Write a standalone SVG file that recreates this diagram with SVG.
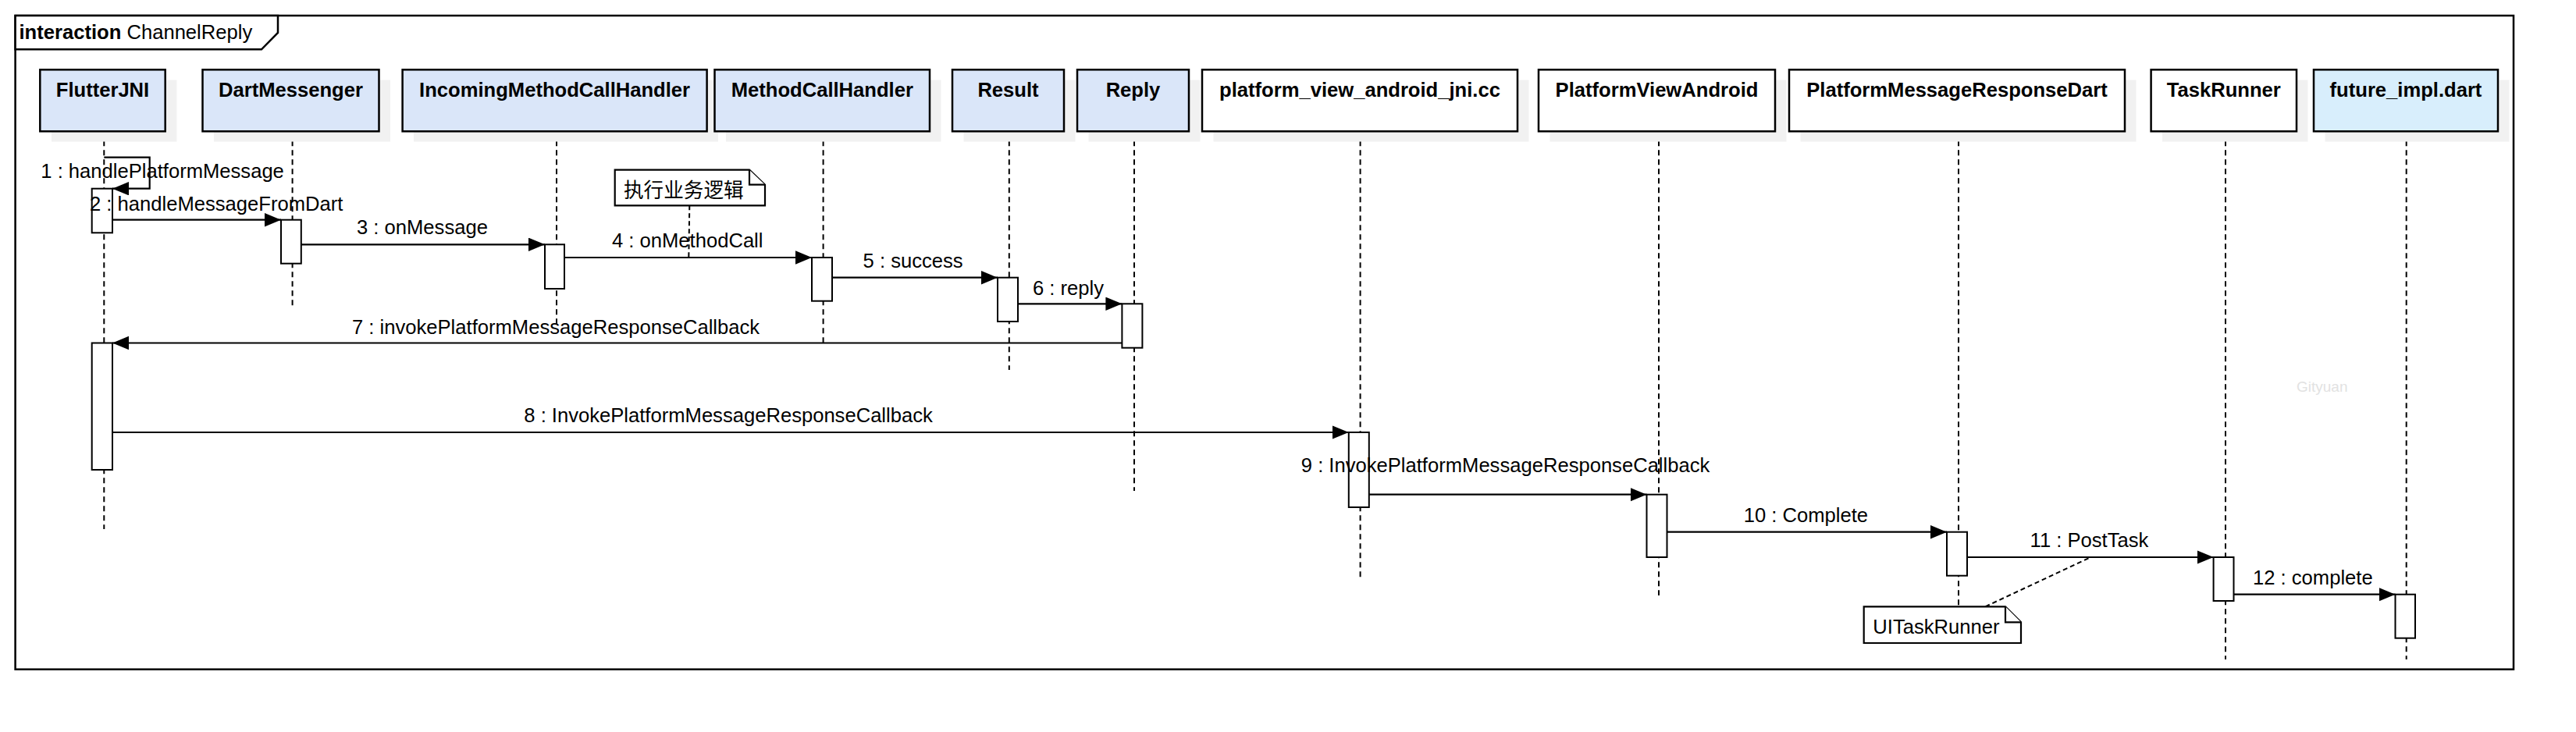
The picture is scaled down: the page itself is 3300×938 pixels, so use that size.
<svg xmlns="http://www.w3.org/2000/svg" width="3300" height="938" viewBox="0 0 3300 938">
<defs>
<style>
.bg{fill:#ffffff}
.frame{fill:none;stroke:#000;stroke-width:2.5}
.flabel{fill:#fff;stroke:#000;stroke-width:2.5}
.t{font-family:"Liberation Sans",Arial,"Noto Sans CJK SC",sans-serif;font-size:25.6px;fill:#000}
.tb{font-family:"Liberation Sans",Arial,sans-serif;font-size:25.6px;font-weight:bold;fill:#000}
.cjk{font-family:"Noto Sans CJK SC","Liberation Sans",sans-serif;font-size:25.6px;fill:#000}
.shadow{fill:#f1f1f1;stroke:none}
.head{stroke:#000;stroke-width:2.5}
.blue{fill:#dae6f9}
.cyan{fill:#d8eefc}
.white{fill:#ffffff}
.life{stroke:#000;stroke-width:2;stroke-dasharray:7 5;fill:none}
.act{fill:#fff;stroke:#000;stroke-width:2}
.msg{fill:none;stroke:#000;stroke-width:2.2;marker-end:url(#arr)}
.note{fill:#fff;stroke:#000;stroke-width:2.2}
.nlink{fill:none;stroke:#000;stroke-width:2;stroke-dasharray:6 4}
.wm{font-family:"Liberation Sans",Arial,sans-serif;font-size:19px;fill:#e2e2e2}
</style>
<marker id="arr" markerUnits="userSpaceOnUse" markerWidth="22" markerHeight="18" refX="21" refY="8.7" orient="auto">
<path d="M0,0 L21,8.7 L0,17.4 Z" fill="#000"/>
</marker>
</defs>
<rect class="bg" x="0" y="0" width="3300" height="938"/>

<g id="frame">
<rect class="frame" x="19.6" y="20" width="3200.4" height="837.7"/>
<path class="flabel" d="M19.6,20 H356 V42 L335,63.3 H19.6 Z"/>
<text x="24.5" y="50" class="t"><tspan font-weight="bold">interaction</tspan> ChannelReply</text>
</g>

<g id="lifelines">
<line class="life" x1="133.3" y1="168.3" x2="133.3" y2="678"/>
<line class="life" x1="374.6" y1="168.3" x2="374.6" y2="392"/>
<line class="life" x1="713" y1="168.3" x2="713" y2="415"/>
<line class="life" x1="1054.6" y1="168.3" x2="1054.6" y2="440"/>
<line class="life" x1="1292.8" y1="168.3" x2="1292.8" y2="474"/>
<line class="life" x1="1453" y1="168.3" x2="1453" y2="629"/>
<line class="life" x1="1742.6" y1="168.3" x2="1742.6" y2="740"/>
<line class="life" x1="2125" y1="168.3" x2="2125" y2="763"/>
<line class="life" x1="2509" y1="168.3" x2="2509" y2="777"/>
<line class="life" x1="2851" y1="168.3" x2="2851" y2="845"/>
<line class="life" x1="3082.7" y1="168.3" x2="3082.7" y2="845"/>
</g>

<g id="FlutterJNI">
<rect class="shadow" x="66" y="102.5" width="160.4" height="79"/>
<rect class="head blue" x="51.3" y="89.3" width="160.4" height="79"/>
<text class="tb" x="131.5" y="123.5" text-anchor="middle">FlutterJNI</text>
</g>
<g id="DartMessenger">
<rect class="shadow" x="274" y="102.5" width="226" height="79"/>
<rect class="head blue" x="259.5" y="89.3" width="226" height="79"/>
<text class="tb" x="372.5" y="123.5" text-anchor="middle">DartMessenger</text>
</g>
<g id="IncomingMethodCallHandler">
<rect class="shadow" x="530" y="102.5" width="390" height="79"/>
<rect class="head blue" x="515.6" y="89.3" width="390" height="79"/>
<text class="tb" x="710.6" y="123.5" text-anchor="middle">IncomingMethodCallHandler</text>
</g>
<g id="MethodCallHandler">
<rect class="shadow" x="930" y="102.5" width="275.5" height="79"/>
<rect class="head blue" x="915.5" y="89.3" width="275.5" height="79"/>
<text class="tb" x="1053.3" y="123.5" text-anchor="middle">MethodCallHandler</text>
</g>
<g id="Result">
<rect class="shadow" x="1234.5" y="102.5" width="143" height="79"/>
<rect class="head blue" x="1220" y="89.3" width="143" height="79"/>
<text class="tb" x="1291.5" y="123.5" text-anchor="middle">Result</text>
</g>
<g id="Reply">
<rect class="shadow" x="1394.5" y="102.5" width="143" height="79"/>
<rect class="head blue" x="1380" y="89.3" width="143" height="79"/>
<text class="tb" x="1451.5" y="123.5" text-anchor="middle">Reply</text>
</g>
<g id="platform_view_android_jni">
<rect class="shadow" x="1554.5" y="102.5" width="404" height="79"/>
<rect class="head white" x="1540" y="89.3" width="404" height="79"/>
<text class="tb" x="1742" y="123.5" text-anchor="middle">platform_view_android_jni.cc</text>
</g>
<g id="PlatformViewAndroid">
<rect class="shadow" x="1985.5" y="102.5" width="303" height="79"/>
<rect class="head white" x="1971" y="89.3" width="303" height="79"/>
<text class="tb" x="2122.5" y="123.5" text-anchor="middle">PlatformViewAndroid</text>
</g>
<g id="PlatformMessageResponseDart">
<rect class="shadow" x="2306.5" y="102.5" width="430" height="79"/>
<rect class="head white" x="2292" y="89.3" width="430" height="79"/>
<text class="tb" x="2507" y="123.5" text-anchor="middle">PlatformMessageResponseDart</text>
</g>
<g id="TaskRunner">
<rect class="shadow" x="2770" y="102.5" width="186.4" height="79"/>
<rect class="head white" x="2755.6" y="89.3" width="186.4" height="79"/>
<text class="tb" x="2848.8" y="123.5" text-anchor="middle">TaskRunner</text>
</g>
<g id="future_impl">
<rect class="shadow" x="2978.5" y="102.5" width="236" height="79"/>
<rect class="head cyan" x="2964" y="89.3" width="236" height="79"/>
<text class="tb" x="3082" y="123.5" text-anchor="middle">future_impl.dart</text>
</g>

<g id="connectors">
<polyline class="msg" points="133.3,201.7 191.7,201.7 191.7,241.7 144,241.7"/>
<line class="msg" x1="144" y1="281.7" x2="360" y2="281.7"/>
<line class="msg" x1="385.8" y1="313.3" x2="698" y2="313.3"/>
<line class="msg" x1="723" y1="330" x2="1040" y2="330"/>
<line class="msg" x1="1066" y1="355.7" x2="1278" y2="355.7"/>
<line class="msg" x1="1304" y1="389.3" x2="1437.4" y2="389.3"/>
<line class="msg" x1="1437.4" y1="439.5" x2="144" y2="439.5"/>
<line class="msg" x1="144" y1="554" x2="1727.8" y2="554"/>
<line class="msg" x1="1753.8" y1="633.7" x2="2109.5" y2="633.7"/>
<line class="msg" x1="2135.5" y1="681.7" x2="2494" y2="681.7"/>
<line class="msg" x1="2520" y1="714" x2="2835.6" y2="714"/>
<line class="msg" x1="2861.5" y1="761.7" x2="3068.5" y2="761.7"/>
<line class="nlink" x1="883.3" y1="263.3" x2="882.3" y2="330"/>
<line class="nlink" x1="2543.3" y1="777.3" x2="2678.3" y2="714"/>
</g>

<g id="activations">
<rect class="act" x="117.7" y="241.7" width="26.3" height="56.6"/>
<rect class="act" x="360" y="281.7" width="25.8" height="56"/>
<rect class="act" x="698" y="313.3" width="25" height="56.7"/>
<rect class="act" x="1040" y="330" width="26" height="55.7"/>
<rect class="act" x="1278" y="355.7" width="26" height="56.3"/>
<rect class="act" x="1437.4" y="389.3" width="26" height="56.4"/>
<rect class="act" x="117.7" y="439.5" width="26.3" height="162.5"/>
<rect class="act" x="1727.8" y="554" width="26" height="96"/>
<rect class="act" x="2109.5" y="633.7" width="26" height="80.3"/>
<rect class="act" x="2494" y="681.7" width="26" height="56"/>
<rect class="act" x="2835.6" y="714" width="25.9" height="56"/>
<rect class="act" x="3068.5" y="761.7" width="25.5" height="56"/>
</g>

<g id="labels">
<text class="t" x="52.3" y="227.7">1 : handlePlatformMessage</text>
<text class="t" x="115" y="270">2 : handleMessageFromDart</text>
<text class="t" x="457" y="300">3 : onMessage</text>
<text class="t" x="784" y="317.3">4 : onMethodCall</text>
<text class="t" x="1105.6" y="343">5 : success</text>
<text class="t" x="1323" y="377.7">6 : reply</text>
<text class="t" x="451" y="427.7">7 : invokePlatformMessageResponseCallback</text>
<text class="t" x="671.3" y="540.7">8 : InvokePlatformMessageResponseCallback</text>
<text class="t" x="1666.8" y="605">9 : InvokePlatformMessageResponseCallback</text>
<text class="t" x="2233.7" y="669">10 : Complete</text>
<text class="t" x="2600.6" y="701">11 : PostTask</text>
<text class="t" x="2886" y="749">12 : complete</text>
</g>

<g id="note_business">
<path class="note" d="M787.7,217.7 H960 L980,236.7 V263.3 H787.7 Z"/>
<path class="note" fill="none" d="M960,217.7 V236.7 H980"/>
<text class="cjk" x="799" y="252.7">执行业务逻辑</text>
</g>
<g id="note_uitaskrunner">
<path class="note" d="M2387.7,777.3 H2569 L2589,797.3 V824 H2387.7 Z"/>
<path class="note" fill="none" d="M2569,777.3 V797.3 H2589"/>
<text class="t" x="2399.3" y="811.7">UITaskRunner</text>
</g>

<text class="wm" x="2942" y="501.7">Gityuan</text>
</svg>
